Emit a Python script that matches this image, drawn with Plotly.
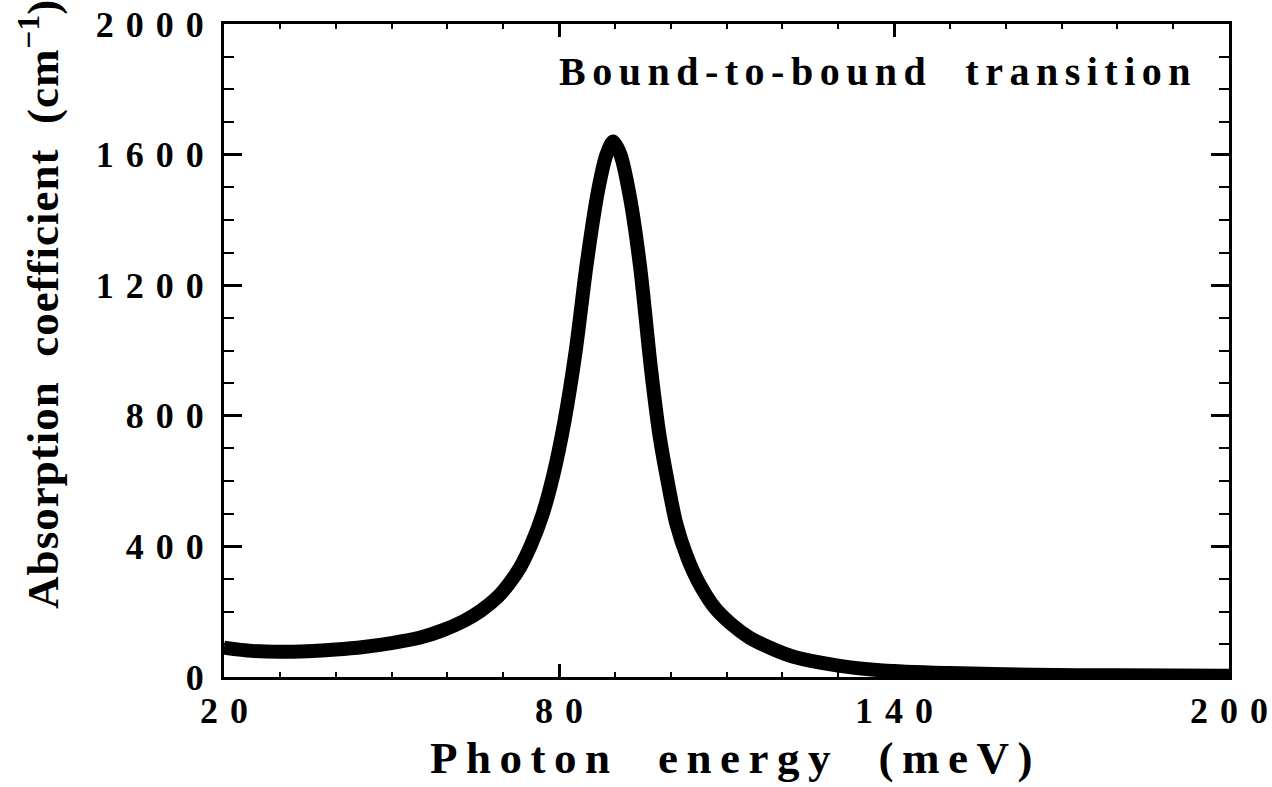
import plotly.graph_objects as go

# ---- data ----
energy_meV = [20, 25, 30, 35, 40, 45, 50, 55, 59, 63, 66, 69, 71, 73, 75, 77, 79, 81, 83, 85,
              87, 88.5, 89.7, 91, 92.7, 94.5, 96.5, 98, 99.5, 101, 103, 105, 108, 111, 114,
              118, 122, 130, 138, 150, 165, 180, 200]
absorption = [90, 80, 77, 79, 84, 92, 104, 120, 142, 172, 203, 245, 285, 335, 405, 495, 620,
              785, 1000, 1270, 1490, 1600, 1640, 1600, 1470, 1260, 940, 740, 595, 470, 365,
              290, 210, 160, 122, 88, 62, 35, 20, 12, 7, 5, 4]

x_tick_vals = [20, 80, 140, 200]
x_tick_labels = ["20", "80", "140", "200"]
y_tick_vals = [0, 400, 800, 1200, 1600, 2000]
y_tick_labels = ["0", "400", "800", "1200", "1600", "2000"]

x_title = "Photon\u00a0\u00a0energy\u00a0\u00a0(meV)"
y_title_main = "Absorption\u00a0\u00a0coefficient\u00a0\u00a0(cm"
y_title_sup = "\u22121"
y_title_end = ")"
panel_label = "Bound-to-bound\u00a0\u00a0transition"

FONT = "Liberation Serif, Times New Roman, serif"


def spaced(txt, ls):
    # letter-spacing on every character except the last (no trailing gap)
    if len(txt) <= 1:
        return txt
    return '<span style="letter-spacing:%.1fpx">%s</span>%s' % (ls, txt[:-1], txt[-1])


fig = go.Figure()
fig.add_trace(go.Scatter(
    x=energy_meV, y=absorption, mode="lines",
    line=dict(color="black", width=14, shape="spline", smoothing=0.8),
    hoverinfo="skip",
))

axis_common = dict(
    ticks="inside", tickwidth=3, tickcolor="black",
    showline=True, linewidth=3, linecolor="black", mirror="ticks",
    showgrid=False, zeroline=False, automargin=False,
    tickfont=dict(family=FONT, size=36, color="black", weight=700),
)

fig.update_xaxes(
    range=[20, 200], tickmode="array", tickvals=x_tick_vals,
    ticktext=[spaced(t, 12) for t in x_tick_labels], ticklen=13,
    ticklabeloverflow="allow",
    minor=dict(tickmode="linear", tick0=20, dtick=10, ticks="inside", ticklen=5,
               tickwidth=2, tickcolor="black", showgrid=False),
    **axis_common,
)
fig.update_yaxes(
    range=[0, 2000], tickmode="array", tickvals=y_tick_vals,
    ticktext=[spaced(t, 12) for t in y_tick_labels], ticklen=18,
    ticklabelstandoff=10,
    minor=dict(tickmode="linear", tick0=0, dtick=100, ticks="inside", ticklen=10,
               tickwidth=2, tickcolor="black", showgrid=False),
    **axis_common,
)

fig.add_annotation(
    text=spaced(x_title, 8.5), xref="paper", yref="paper", x=0.504, y=-0.124,
    xanchor="center", yanchor="middle", showarrow=False,
    font=dict(family=FONT, size=45, color="black", weight=700),
)
fig.add_annotation(
    text='<span style="letter-spacing:1px">%s</span><sup>%s</sup>%s'
         % (y_title_main, y_title_sup, y_title_end),
    xref="paper", yref="paper", x=-0.183, y=0.57,
    xanchor="center", yanchor="middle", textangle=-90, showarrow=False,
    font=dict(family=FONT, size=45, color="black", weight=700),
)
fig.add_annotation(
    text=spaced(panel_label, 6.5), xref="paper", yref="paper", x=0.648, y=0.9265,
    xanchor="center", yanchor="middle", showarrow=False,
    font=dict(family=FONT, size=40, color="black", weight=700),
)

fig.update_layout(
    width=1272, height=787,
    margin=dict(l=224, r=43, t=24, b=110),
    plot_bgcolor="white", paper_bgcolor="white",
    showlegend=False,
)

fig.write_html("out.html")
